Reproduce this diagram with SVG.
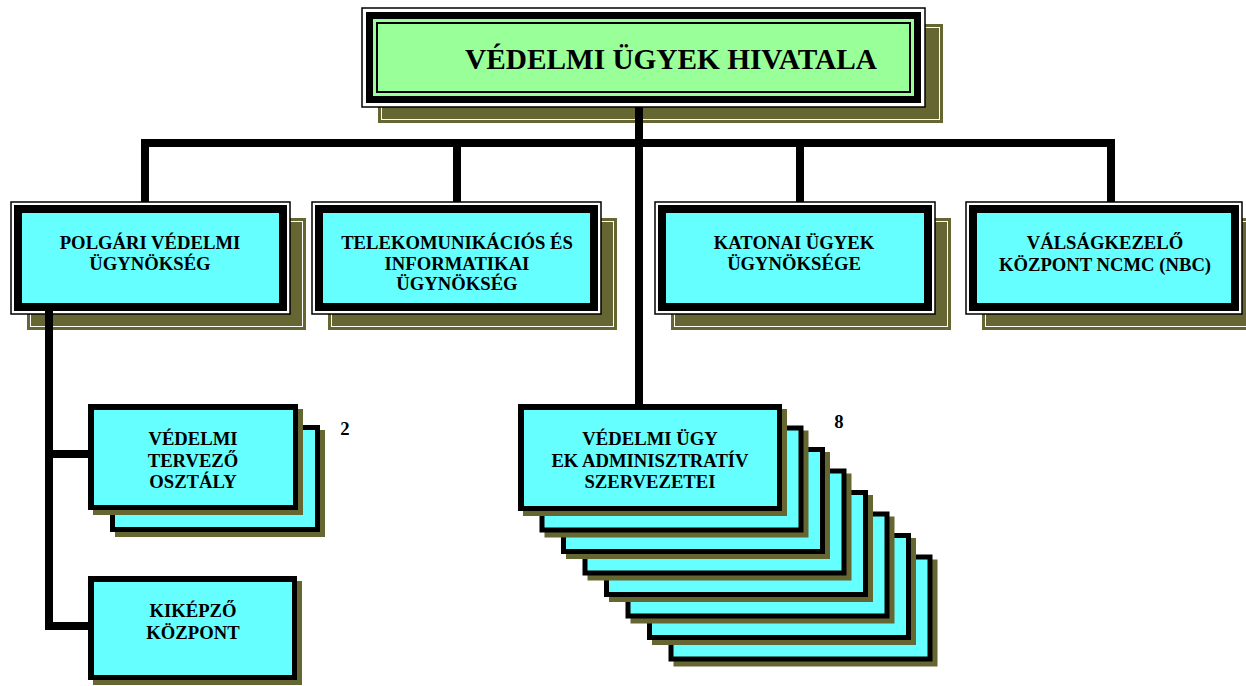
<svg xmlns="http://www.w3.org/2000/svg" width="1246" height="686" viewBox="0 0 1246 686">
<style>
.sh{fill:#666633}
.shl{fill:none;stroke:#ffffff;stroke-width:1}
.fr{fill:#ffffff;stroke:#000000;stroke-width:1.5}
.bk{fill:#000000}
.cy{fill:#66FFFF}
.gr{fill:#99FF99}
.t{font-family:"Liberation Serif","Times New Roman",serif;font-weight:bold;font-size:18.67px;fill:#000000;text-anchor:middle}
.tt{font-family:"Liberation Serif","Times New Roman",serif;font-weight:bold;font-size:29.3px;fill:#000000;text-anchor:middle}
.cn{fill:none;stroke:#000000;stroke-width:8;stroke-linejoin:miter}
</style>
<rect width="1246" height="686" fill="#ffffff"/>

<g id="hivatal">
<rect class="sh" x="378" y="24" width="565" height="99"/>
<rect class="shl" x="381.5" y="27.5" width="558" height="92"/>
<rect class="fr" x="362" y="8" width="563" height="99"/>
<rect class="bk" x="366" y="12" width="555" height="91"/>
<rect class="gr" x="373" y="19" width="541" height="77"/>
<rect x="377" y="23" width="533" height="69" fill="none" stroke="#000" stroke-width="2"/>
<text class="tt" x="671" y="69">VÉDELMI ÜGYEK HIVATALA</text>
</g>

<g id="polgari">
<rect class="sh" x="27" y="218" width="279" height="112"/>
<rect class="shl" x="30.5" y="221.5" width="272" height="105"/>
<rect class="fr" x="11" y="202" width="279" height="112"/>
<rect class="bk" x="14" y="205" width="273" height="106"/>
<rect class="cy" x="22" y="213" width="257" height="90"/>
<text class="t" x="150" y="249">POLGÁRI VÉDELMI</text>
<text class="t" x="150" y="270">ÜGYNÖKSÉG</text>
</g>

<g id="telekom">
<rect class="sh" x="328" y="218" width="289" height="112"/>
<rect class="shl" x="331.5" y="221.5" width="282" height="105"/>
<rect class="fr" x="312" y="202" width="289" height="112"/>
<rect class="bk" x="315" y="205" width="283" height="106"/>
<rect class="cy" x="323" y="213" width="267" height="90"/>
<text class="t" x="457" y="249">TELEKOMUNIKÁCIÓS ÉS</text>
<text class="t" x="457" y="270">INFORMATIKAI</text>
<text class="t" x="457" y="290">ÜGYNÖKSÉG</text>
</g>

<g id="katonai">
<rect class="sh" x="671" y="218" width="280" height="112"/>
<rect class="shl" x="674.5" y="221.5" width="273" height="105"/>
<rect class="fr" x="655" y="202" width="280" height="112"/>
<rect class="bk" x="658" y="205" width="274" height="106"/>
<rect class="cy" x="666" y="213" width="258" height="90"/>
<text class="t" x="794" y="249">KATONAI ÜGYEK</text>
<text class="t" x="794" y="270">ÜGYNÖKSÉGE</text>
</g>

<g id="valsag">
<rect class="sh" x="982" y="218" width="276" height="112"/>
<rect class="shl" x="985.5" y="221.5" width="269" height="105"/>
<rect class="fr" x="966" y="202" width="276" height="112"/>
<rect class="bk" x="969" y="205" width="270" height="106"/>
<rect class="cy" x="977" y="213" width="254" height="90"/>
<text class="t" x="1105" y="249">VÁLSÁGKEZELŐ</text>
<text class="t" x="1105" y="271">KÖZPONT NCMC (NBC)</text>
</g>

<g id="tervezo">
<rect class="sh" x="115" y="430" width="210" height="107"/>
<rect class="bk" x="110" y="425" width="210" height="107"/>
<rect class="cy" x="115" y="430" width="200" height="97"/>
<rect class="sh" x="93" y="409" width="210" height="106"/>
<rect class="bk" x="88" y="404" width="210" height="106"/>
<rect class="cy" x="94" y="410" width="199" height="95"/>
<text class="t" x="193" y="445">VÉDELMI</text>
<text class="t" x="193" y="467">TERVEZŐ</text>
<text class="t" x="193" y="488">OSZTÁLY</text>
<text class="t" x="345" y="435">2</text>
</g>

<g id="kikepzo">
<rect class="sh" x="93" y="581" width="209" height="104"/>
<rect class="bk" x="88" y="576" width="209" height="104"/>
<rect class="cy" x="94" y="582" width="198" height="93"/>
<text class="t" x="193" y="617">KIKÉPZŐ</text>
<text class="t" x="193" y="639">KÖZPONT</text>
</g>

<g id="adminisztrativ">
<rect class="sh" x="673.5" y="559.5" width="264" height="107"/>
<rect class="bk" x="668.5" y="554.5" width="264" height="107"/>
<rect class="cy" x="673.5" y="559.5" width="254" height="97"/>
<rect class="sh" x="652" y="538" width="264" height="107"/>
<rect class="bk" x="647" y="533" width="264" height="107"/>
<rect class="cy" x="652" y="538" width="254" height="97"/>
<rect class="sh" x="630.5" y="516.5" width="264" height="107"/>
<rect class="bk" x="625.5" y="511.5" width="264" height="107"/>
<rect class="cy" x="630.5" y="516.5" width="254" height="97"/>
<rect class="sh" x="609" y="495" width="264" height="107"/>
<rect class="bk" x="604" y="490" width="264" height="107"/>
<rect class="cy" x="609" y="495" width="254" height="97"/>
<rect class="sh" x="587.5" y="473.5" width="264" height="107"/>
<rect class="bk" x="582.5" y="468.5" width="264" height="107"/>
<rect class="cy" x="587.5" y="473.5" width="254" height="97"/>
<rect class="sh" x="566" y="452" width="264" height="107"/>
<rect class="bk" x="561" y="447" width="264" height="107"/>
<rect class="cy" x="566" y="452" width="254" height="97"/>
<rect class="sh" x="544.5" y="430.5" width="264" height="107"/>
<rect class="bk" x="539.5" y="425.5" width="264" height="107"/>
<rect class="cy" x="544.5" y="430.5" width="254" height="97"/>
<rect class="sh" x="523" y="409" width="264" height="107"/>
<rect class="bk" x="518" y="404" width="264" height="107"/>
<rect class="cy" x="524" y="410" width="253" height="96"/>
<text class="t" x="650" y="445">VÉDELMI ÜGY</text>
<text class="t" x="650" y="467">EK ADMINISZTRATÍV</text>
<text class="t" x="650" y="488">SZERVEZETEI</text>
<text class="t" x="839" y="428">8</text>
</g>

<g id="connectors">
<path class="cn" d="M145 202 V143 H1111 V202"/>
<path class="cn" d="M457 143 V202"/>
<path class="cn" d="M800 143 V202"/>
<path class="cn" d="M639 107 V404"/>
<path class="cn" d="M49 311 V626 H88"/>
<path class="cn" d="M49 454 H88"/>
</g>
</svg>
